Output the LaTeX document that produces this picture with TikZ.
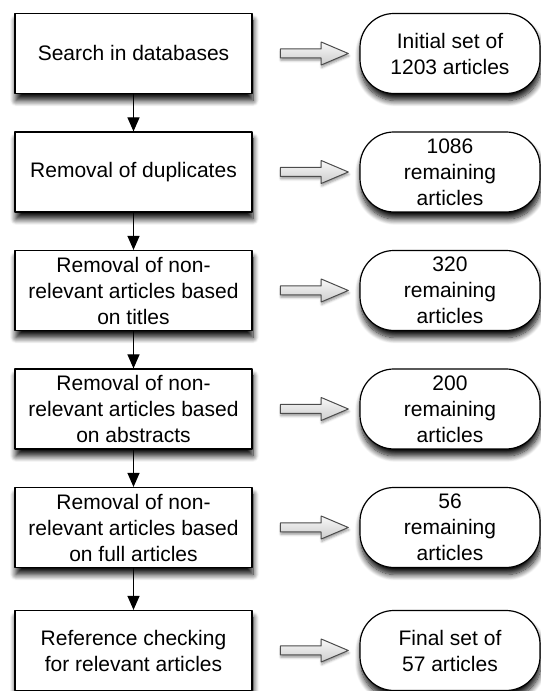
\documentclass[tikz,border=0pt]{standalone}
\usepackage{fontspec}
\setmainfont{Liberation Sans}
\usetikzlibrary{arrows.meta,shapes.arrows,shadows.blur}

\tikzset{
  boxshadow/.style={blur shadow={shadow xshift=0.5pt, shadow yshift=-3.5pt, shadow blur radius=3pt, shadow blur steps=10, shadow opacity=95}},
  stepbox/.style={draw, fill=white, line width=0.6pt, minimum width=118.5pt, minimum height=40pt,
    align=center, inner sep=2pt, boxshadow},
  resbox/.style={draw, fill=white, line width=0.6pt, rounded corners=17pt,
    minimum width=90pt, minimum height=40pt, align=center, inner sep=2pt, boxshadow},
  hollowarrow/.style={single arrow, draw=black!70, line width=0.5pt, top color=gray!5, bottom color=gray!40,
    minimum height=34pt, inner sep=2pt, single arrow head extend=3.5pt, single arrow tip angle=46,
    blur shadow={shadow xshift=0.3pt, shadow yshift=-1.2pt, shadow blur radius=1.2pt, shadow blur steps=4, shadow opacity=40}}
}

\begin{document}
\begin{tikzpicture}[x=0.5pt, y=0.5pt, font=\fontsize{10.5}{13}\selectfont, line join=round, >={Triangle[length=7pt,width=6pt]}]
  \useasboundingbox (0,0) rectangle (541,691);
  % steps and results
  \foreach \y/\a/\b [count=\i] in {
      637.5/{Search in databases}/{Initial set of\\1203 articles},
      519/{Removal of duplicates}/{1086\\remaining\\articles},
      400.5/{Removal of non-\\relevant articles based\\on titles}/{320\\remaining\\articles},
      282/{Removal of non-\\relevant articles based\\on abstracts}/{200\\remaining\\articles},
      163.5/{Removal of non-\\relevant articles based\\on full articles}/{56\\remaining\\articles},
      40.5/{Reference checking\\for relevant articles}/{Final set of\\57 articles}}{
    \node[stepbox] (s\i) at (133.5,\y) {\a};
    \node[resbox] (r\i) at (450,\y) {\b};
    \path (s\i) -- node[hollowarrow, xshift=1.5pt]{} (r\i);
  }
  \foreach \i/\j in {1/2,2/3,3/4,4/5,5/6}
    \draw[->, line width=0.6pt] (s\i) -- (s\j);
\end{tikzpicture}
\end{document}
